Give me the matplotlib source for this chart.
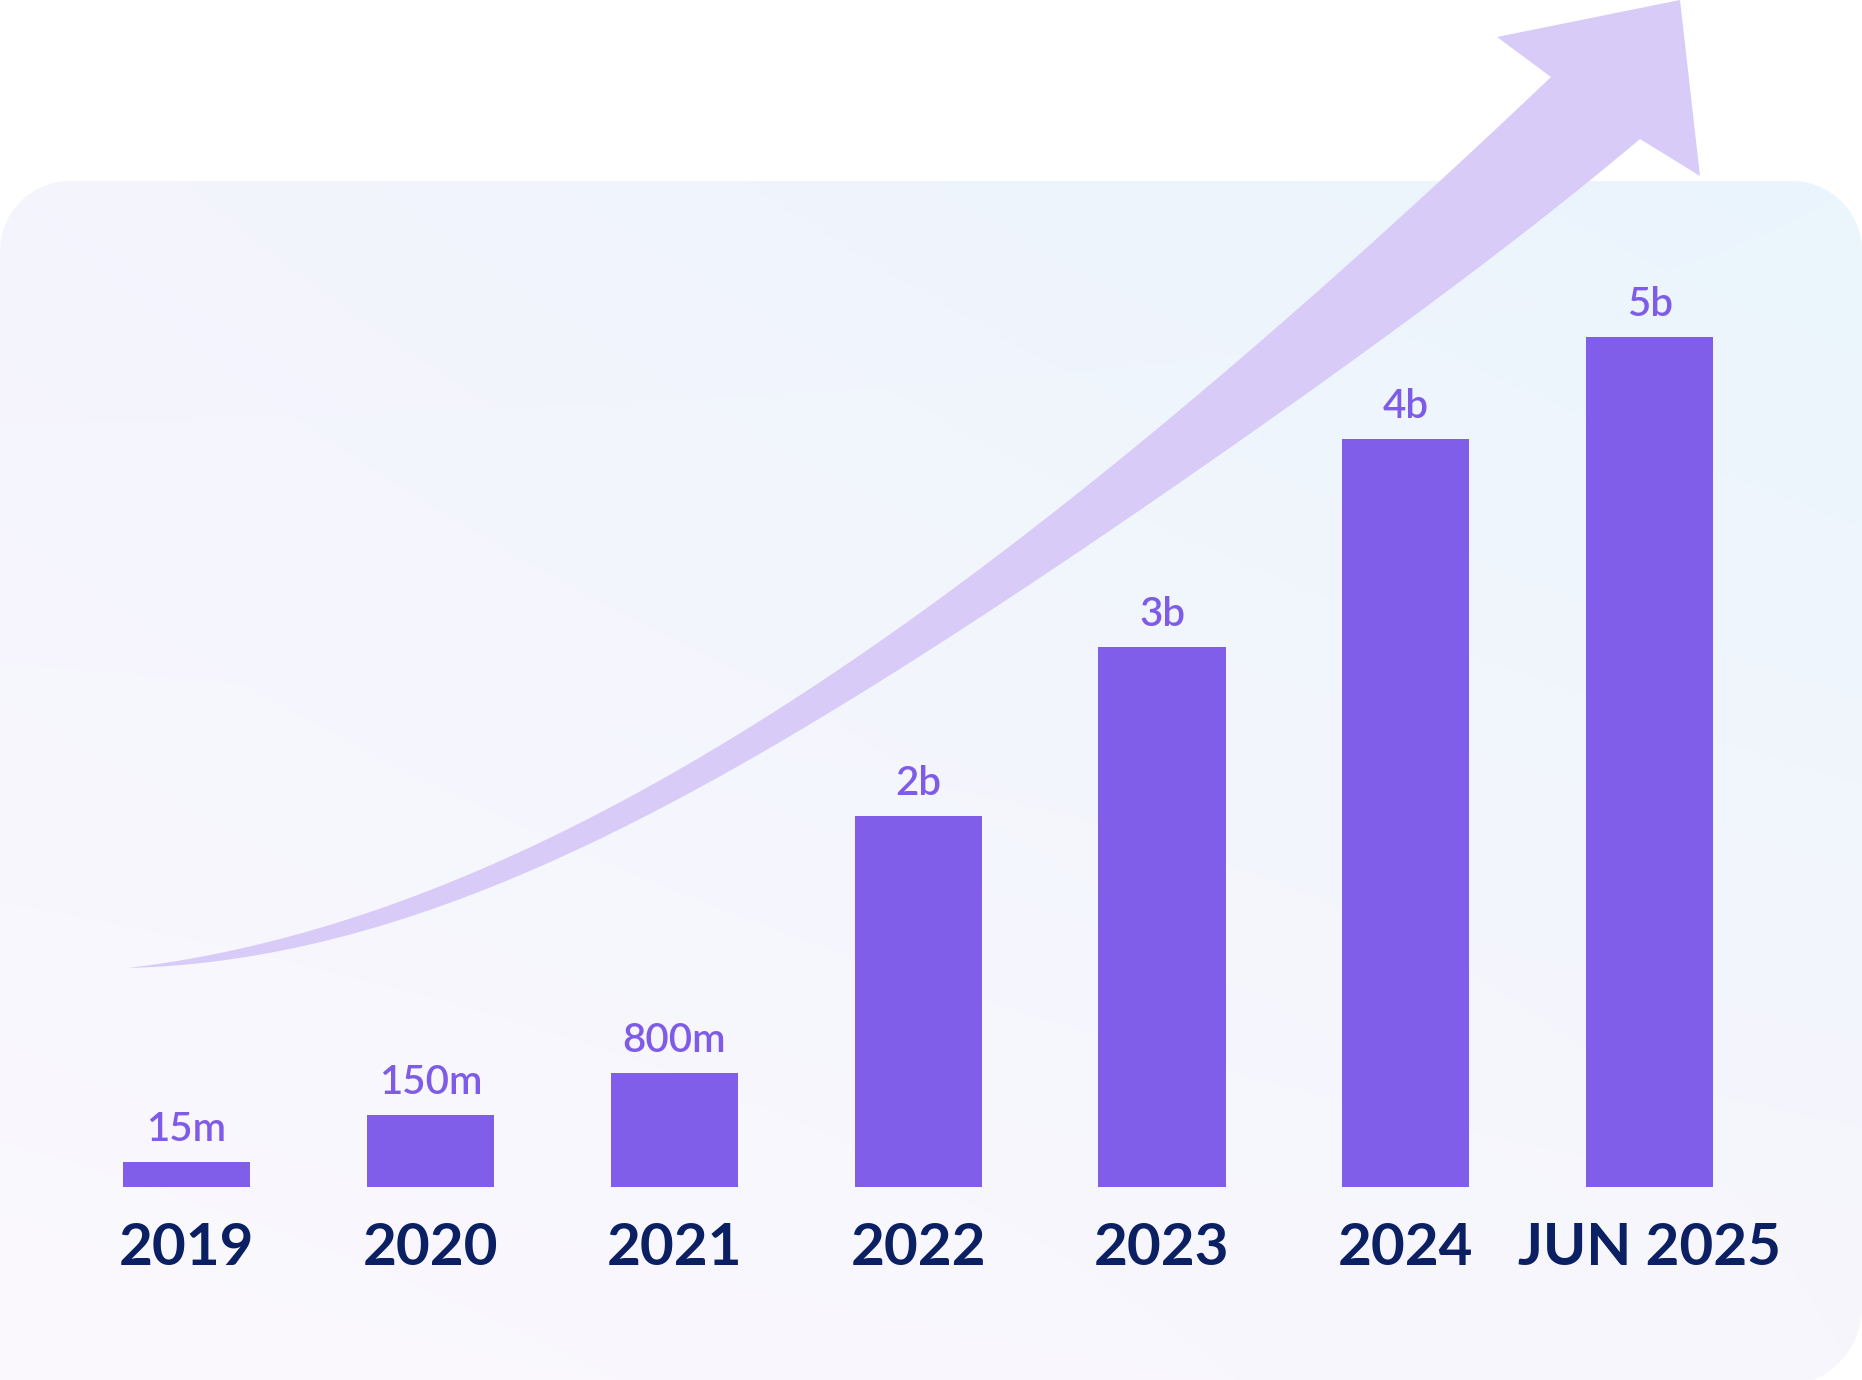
import numpy as np
import matplotlib
matplotlib.use("Agg")
import matplotlib.pyplot as plt
from matplotlib.path import Path
from matplotlib.patches import PathPatch
from math import comb

# ---------------- data ----------------
categories = ["2019", "2020", "2021", "2022", "2023", "2024", "JUN 2025"]
value_labels = ["15m", "150m", "800m", "2b", "3b", "4b", "5b"]
# visual bar heights as drawn in the picture (not proportional to values)
bar_heights = [25, 72, 114, 371, 540, 748, 850]

# ---------------- style ----------------
plt.rcParams["font.family"] = ["Lato", "DejaVu Sans"]
BAR_COLOR = "#815ee9"
VALUE_COLOR = "#7f5ce8"
YEAR_COLOR = "#0b1f63"
ARROW_COLOR = "#d8cbf8"

W, H = 1862, 1380
fig = plt.figure(figsize=(W / 100, H / 100), dpi=100)
fig.patch.set_facecolor("white")

# ---------------- background panel (pixel coordinates) ----------------
bg = fig.add_axes([0, 0, 1, 1], zorder=0)
bg.set_xlim(0, W)
bg.set_ylim(H, 0)
bg.axis("off")

top = 181
bottom = 1386
r_top = 70
r_br = 79


def arc(cx, cy, r, a0, a1, n=30):
    a = np.radians(np.linspace(a0, a1, n))
    return np.column_stack([cx + r * np.cos(a), cy + r * np.sin(a)])


# y axis points down: angle 180->270 goes from left to top
outline_panel = np.vstack([
    [[0, bottom]],
    arc(r_top, top + r_top, r_top, 180, 270),
    arc(W - r_top, top + r_top, r_top, 270, 360),
    arc(W - r_br, bottom - r_br, r_br, 0, 90),
    [[0, bottom]],
])
codes = [Path.MOVETO] + [Path.LINETO] * (len(outline_panel) - 2) + [Path.CLOSEPOLY]
panel = PathPatch(Path(outline_panel, codes), transform=bg.transData,
                  facecolor="none", edgecolor="none")
bg.add_patch(panel)

ny, nx = 200, 300
u = np.linspace(0, 1, nx)[None, :, None]
v = np.linspace(0, 1, ny)[:, None, None]
c_tl = np.array([0xf4, 0xf4, 0xfd]) / 255
c_tr = np.array([0xea, 0xf5, 0xfc]) / 255
c_bl = np.array([0xfb, 0xf9, 0xfe]) / 255
c_br = np.array([0xf8, 0xf6, 0xfd]) / 255
arr = (1 - u) * (1 - v) * c_tl + u * (1 - v) * c_tr + (1 - u) * v * c_bl + u * v * c_br
img = bg.imshow(arr, extent=(0, W, bottom, top), origin="upper", aspect="auto",
                interpolation="bilinear", zorder=0)
img.set_clip_path(panel)


# ---------------- decorative growth arrow ----------------
def bezier_fit(pts, deg=4, n=200):
    """Least-squares Bezier through traced outline points, endpoints fixed."""
    pts = np.asarray(pts, float)
    d = np.r_[0, np.cumsum(np.hypot(*np.diff(pts, axis=0).T))]
    t = d / d[-1]
    for _ in range(3):
        B = np.column_stack([comb(deg, k) * t ** k * (1 - t) ** (deg - k)
                             for k in range(deg + 1)])
        rhs = pts - np.outer(B[:, 0], pts[0]) - np.outer(B[:, -1], pts[-1])
        inner, *_ = np.linalg.lstsq(B[:, 1:-1], rhs, rcond=None)
        ctrl = np.vstack([pts[0], inner, pts[-1]])
        # reparametrise: nearest point on the curve
        tt = np.linspace(0, 1, 2000)
        Bt = np.column_stack([comb(deg, k) * tt ** k * (1 - tt) ** (deg - k)
                              for k in range(deg + 1)])
        curve = Bt @ ctrl
        dist = ((pts[:, None, :] - curve[None, :, :]) ** 2).sum(-1)
        t = tt[dist.argmin(axis=1)]
        t[0], t[-1] = 0, 1
    tt = np.linspace(0, 1, n)
    Bt = np.column_stack([comb(deg, k) * tt ** k * (1 - tt) ** (deg - k)
                          for k in range(deg + 1)])
    return Bt @ ctrl


upper_edge = [(128, 968), (277, 940), (410, 900), (510, 857), (630, 790), (727, 743),
              (827, 680), (960, 587), (1090, 480), (1227, 367), (1360, 260),
              (1437, 183), (1493, 127), (1551, 77)]
head = [(1497, 37), (1680, 0), (1700, 176)]
lower_edge = [(1640, 139), (1580, 190), (1460, 283), (1327, 377), (1183, 480),
              (1080, 553), (993, 607), (860, 693), (727, 773), (630, 825),
              (543, 867), (443, 903), (343, 937), (210, 960), (128, 968)]
outline = np.vstack([bezier_fit(upper_edge), np.array(head, float),
                     bezier_fit(lower_edge)])
bg.fill(outline[:, 0], outline[:, 1], color=ARROW_COLOR, lw=0, zorder=2)

# ---------------- bars ----------------
ax = fig.add_axes([0, 0, 1, 1], zorder=1)
ax.patch.set_alpha(0)
ax.axis("off")
x = np.arange(len(categories))
ax.bar(x, bar_heights, width=0.521, color=BAR_COLOR, linewidth=0)
ax.set_xlim(-0.764, 6.870)
ax.set_ylim(-193, 1187)

for i, (lbl, h) in enumerate(zip(value_labels, bar_heights)):
    ax.annotate(lbl, (i, h), xytext=(0, 15), textcoords="offset points",
                ha="center", va="baseline", fontsize=29, fontweight="semibold",
                color=VALUE_COLOR)

for i, cat in enumerate(categories):
    ax.text(i, -78, cat, ha="center", va="baseline", fontsize=42,
            fontweight="bold", color=YEAR_COLOR)

fig.savefig("out.png", dpi=100, facecolor="white")
